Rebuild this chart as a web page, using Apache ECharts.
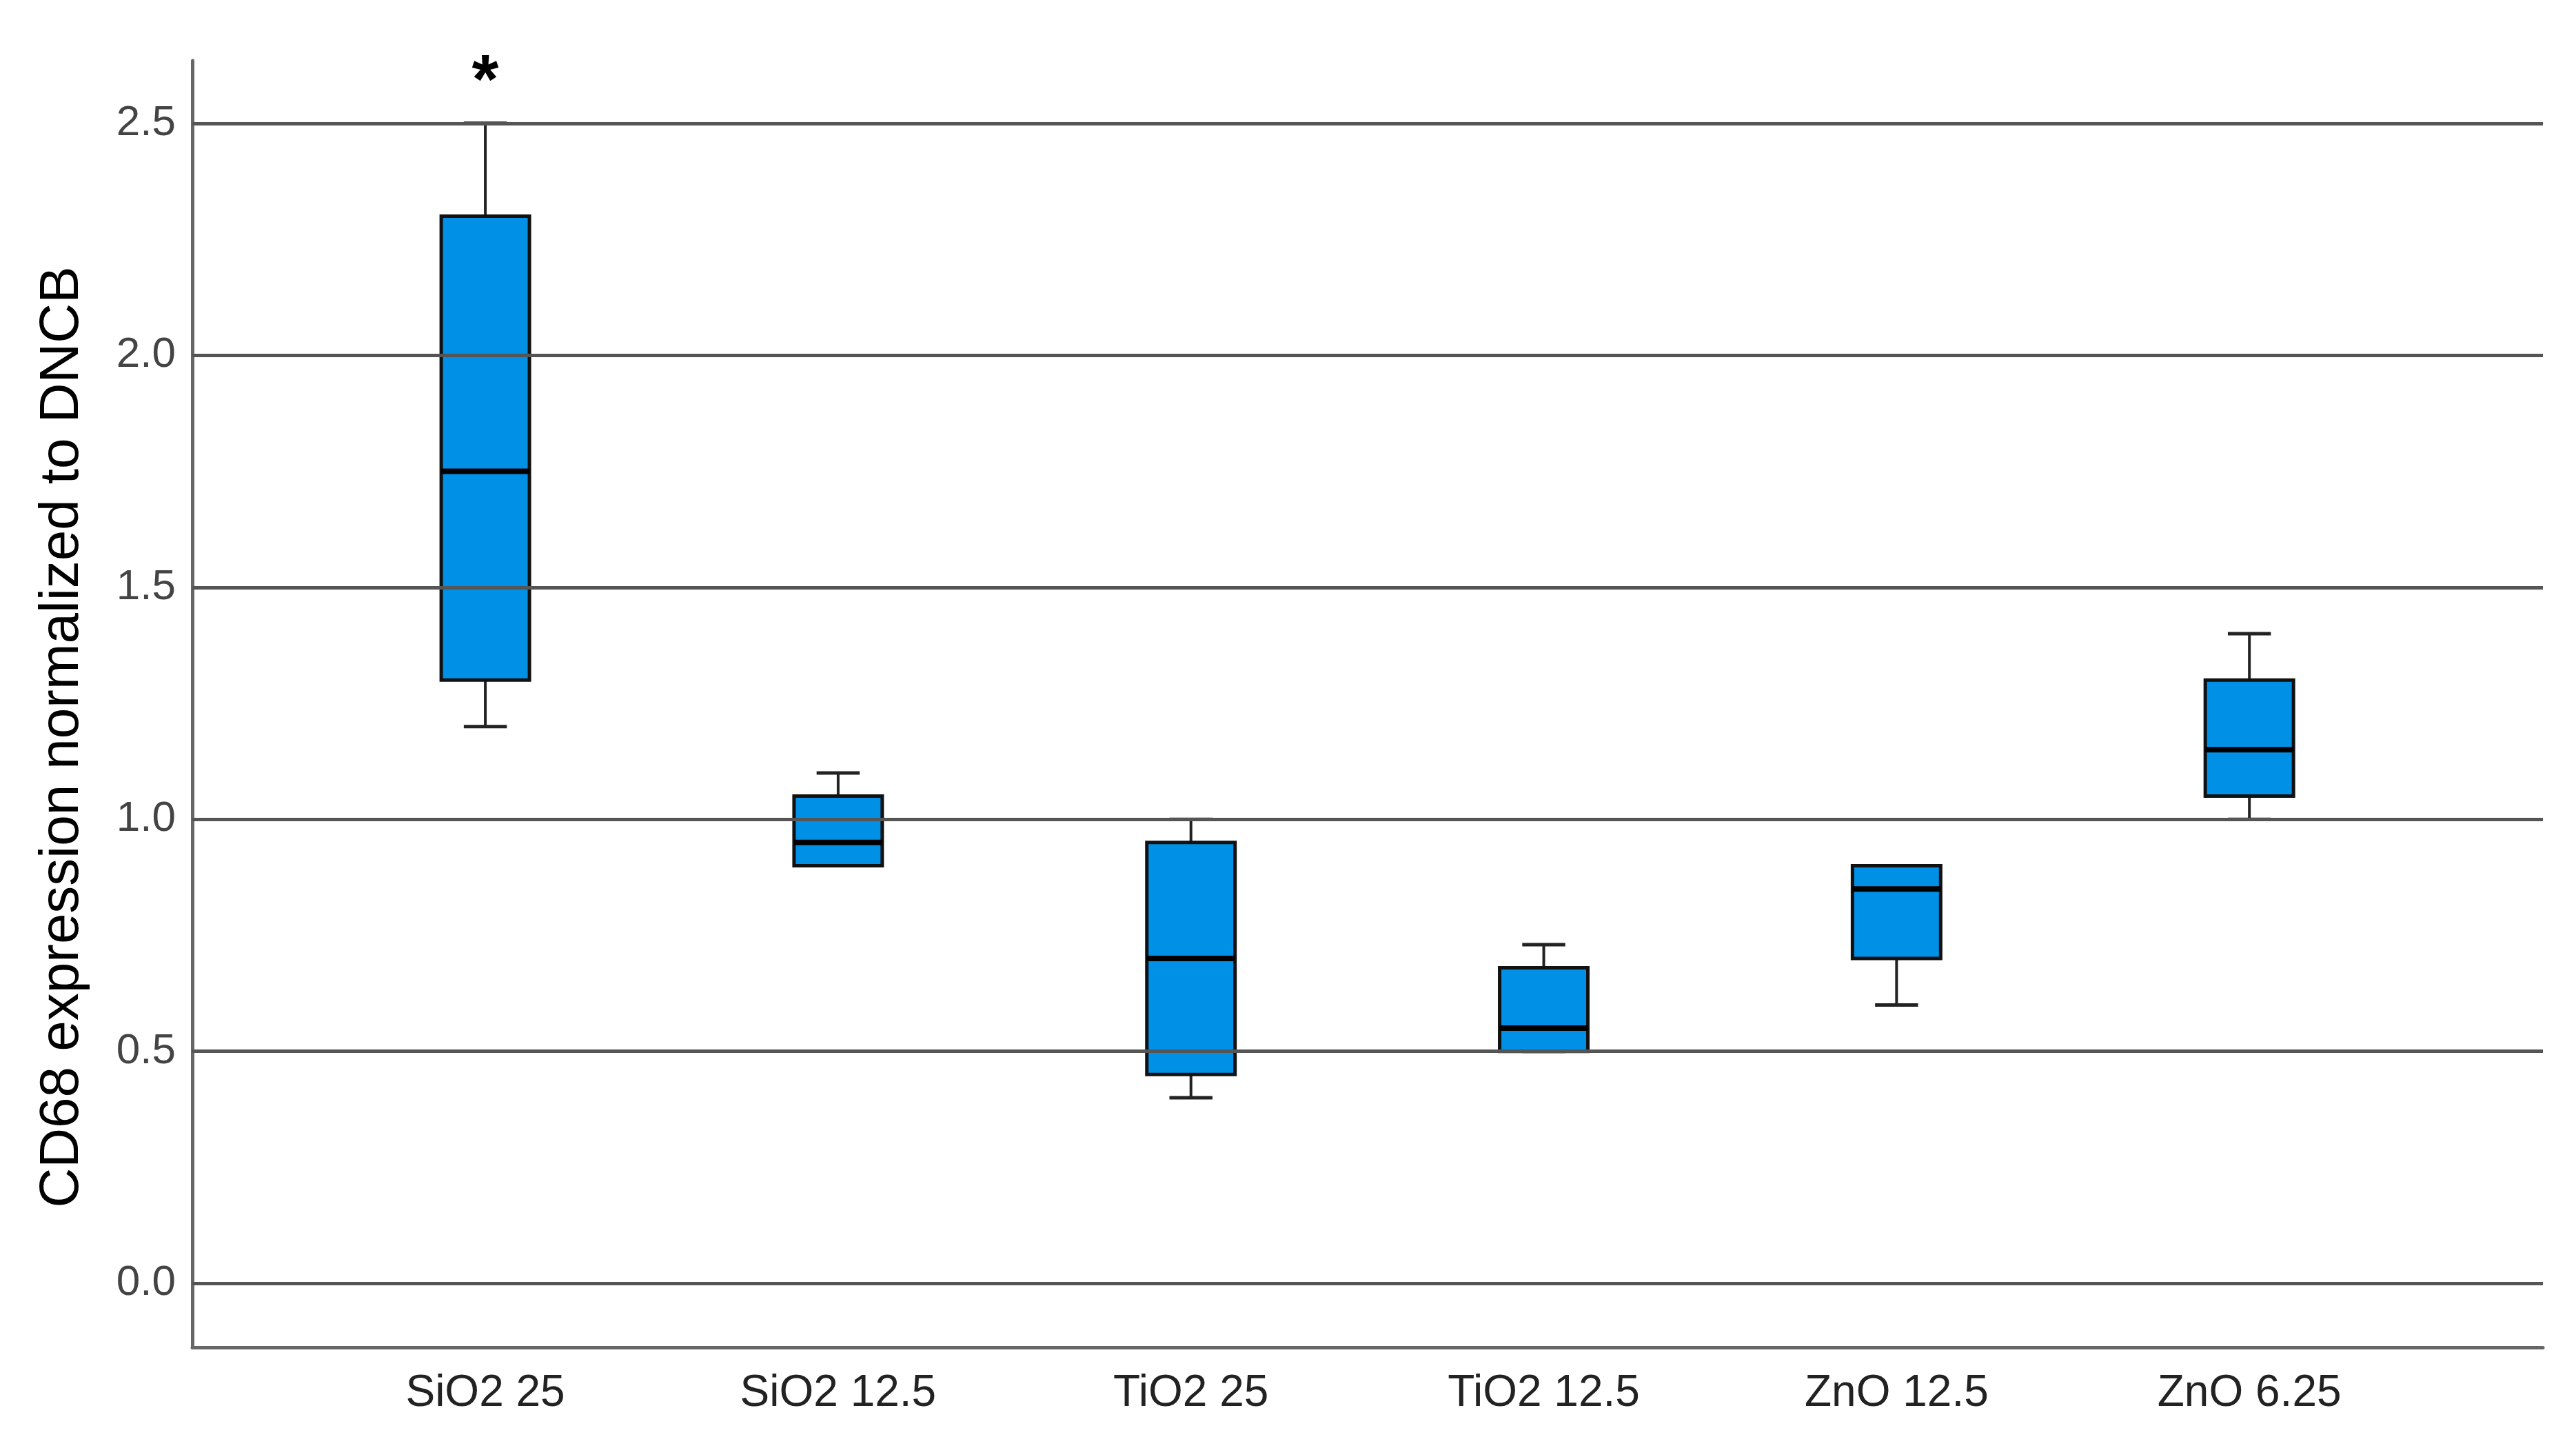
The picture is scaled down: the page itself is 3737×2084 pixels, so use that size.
<!DOCTYPE html>
<html>
<head>
<meta charset="utf-8">
<script src="https://cdn.jsdelivr.net/npm/echarts@6/dist/echarts.min.js"></script>
<style>
  html, body { margin: 0; padding: 0; background: #fff; }
  #chart { width: 3737px; height: 2084px; }
</style>
</head>
<body>
<div id="chart"></div>
<script>
const categories = ['SiO2 25', 'SiO2 12.5', 'TiO2 25', 'TiO2 12.5', 'ZnO 12.5', 'ZnO 6.25'];
const boxMin    = [1.20, 0.90, 0.40, 0.50, 0.60, 1.00];
const boxQ1     = [1.30, 0.90, 0.45, 0.50, 0.70, 1.05];
const boxMedian = [1.75, 0.95, 0.70, 0.55, 0.85, 1.15];
const boxQ3     = [2.30, 1.05, 0.95, 0.68, 0.90, 1.30];
const boxMax    = [2.50, 1.10, 1.00, 0.73, 0.90, 1.40];
const significance = ['*', '', '', '', '', ''];
const yTicks = [0, 0.5, 1.0, 1.5, 2.0, 2.5];
const xTicks = [0, 1, 2, 3, 4, 5];

const boxColor = '#0090e6';
const lineColor = '#555';

const chart = echarts.init(document.getElementById('chart'));

const seriesData = categories.map(function (c, i) {
  return [i, boxMin[i], boxQ1[i], boxMedian[i], boxQ3[i], boxMax[i], significance[i]];
});

function renderBox(params, api) {
  const i = api.value(0);
  const band = api.size([1, 0])[0];
  const half = band * 0.125;
  const capHalf = band * 0.061;
  const x = api.coord([i, 0])[0];
  const yMin = api.coord([i, api.value(1)])[1];
  const yQ1 = api.coord([i, api.value(2)])[1];
  const yMed = api.coord([i, api.value(3)])[1];
  const yQ3 = api.coord([i, api.value(4)])[1];
  const yMax = api.coord([i, api.value(5)])[1];
  const whisker = { stroke: '#222', lineWidth: 4 };
  const cap = { stroke: '#222', lineWidth: 5 };
  const children = [
    { type: 'line', shape: { x1: x, y1: yQ3, x2: x, y2: yMax }, style: whisker },
    { type: 'line', shape: { x1: x, y1: yQ1, x2: x, y2: yMin }, style: whisker },
    { type: 'line', shape: { x1: x - capHalf, y1: yMax, x2: x + capHalf, y2: yMax }, style: cap },
    { type: 'line', shape: { x1: x - capHalf, y1: yMin, x2: x + capHalf, y2: yMin }, style: cap },
    { type: 'rect', shape: { x: x - half, y: yQ3, width: half * 2, height: yQ1 - yQ3 },
      style: { fill: boxColor, stroke: '#111', lineWidth: 5 } },
    { type: 'line', shape: { x1: x - half, y1: yMed, x2: x + half, y2: yMed }, style: { stroke: '#000', lineWidth: 8 } }
  ];
  const sig = api.value(6);
  if (sig) {
    children.push({
      type: 'text',
      style: {
        text: sig, x: x, y: yMax - 57,
        fontSize: 100, fontWeight: 'bold', fontFamily: 'Liberation Sans, Arial, sans-serif',
        fill: '#000', align: 'center', verticalAlign: 'middle'
      }
    });
  }
  return { type: 'group', children: children };
}

chart.setOption({
  animation: false,
  backgroundColor: '#fff',
  textStyle: { fontFamily: 'Liberation Sans, Arial, sans-serif' },
  grid: { left: 279, right: 48, top: 88, bottom: 130, outerBoundsMode: 'none' },
  xAxis: {
    type: 'value',
    min: -0.8305,
    max: 5.832,
    axisLine: { show: true, onZero: false, lineStyle: { color: '#666', width: 5 } },
    axisTick: { show: false },
    splitLine: { show: false },
    axisLabel: {
      customValues: xTicks,
      formatter: function (v) { return categories[v]; },
      fontSize: 64,
      color: '#222',
      margin: 35
    }
  },
  yAxis: {
    type: 'value',
    min: -0.138,
    max: 2.635,
    name: 'CD68 expression normalized to DNCB',
    nameLocation: 'middle',
    nameRotate: 90,
    nameGap: 148,
    nameMoveOverlap: false,
    nameTextStyle: { fontSize: 80, color: '#000', padding: [0, 96, 0, 0] },
    axisLine: { show: true, onZero: false, lineStyle: { color: '#666', width: 5 } },
    axisTick: { show: false },
    splitLine: { show: false },
    axisLabel: {
      customValues: yTicks,
      formatter: function (v) { return v.toFixed(1); },
      fontSize: 62,
      color: '#444',
      margin: 24
    }
  },
  series: [
    {
      type: 'line',
      data: [],
      z: 1,
      markLine: {
        silent: true,
        symbol: ['none', 'none'],
        label: { show: false },
        lineStyle: { color: lineColor, width: 5, type: 'solid' },
        data: yTicks.map(function (v) { return { yAxis: v }; })
      }
    },
    {
      type: 'custom',
      z: 3,
      renderItem: renderBox,
      encode: { x: 0, y: [1, 2, 3, 4, 5] },
      data: seriesData
    }
  ]
});
</script>
</body>
</html>
